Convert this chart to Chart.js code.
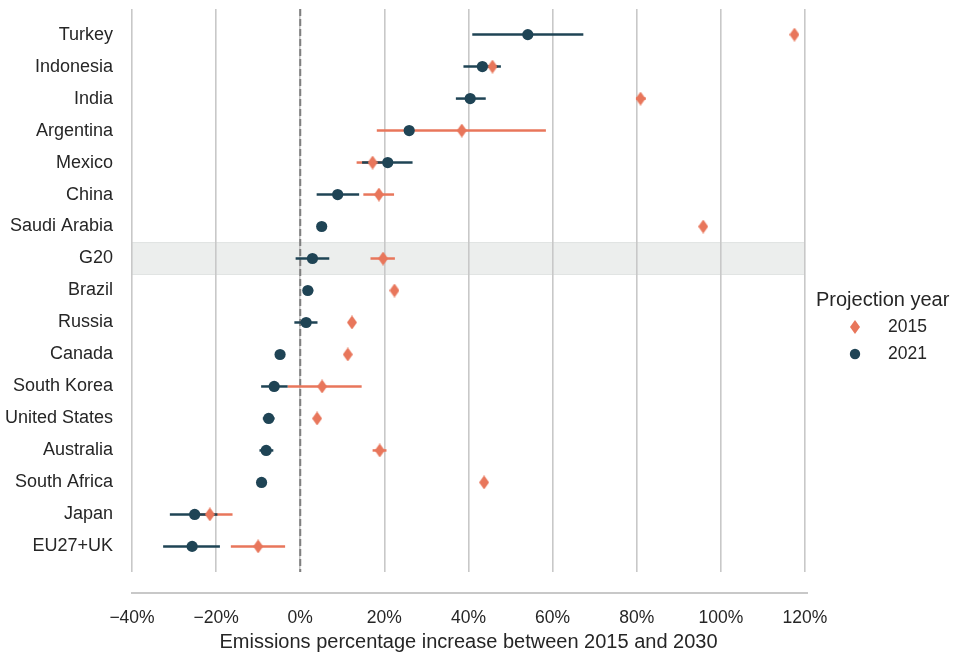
<!DOCTYPE html>
<html>
<head>
<meta charset="utf-8">
<script src="https://cdn.jsdelivr.net/npm/chart.js@4/dist/chart.umd.min.js"></script>
<style>
  html, body { margin: 0; padding: 0; background: #fff; }
  #wrap { width: 957px; height: 654px; }
</style>
</head>
<body>
<div id="wrap"><canvas id="myChart" width="957" height="654"></canvas></div>
<script>
var countries = ['Turkey', 'Indonesia', 'India', 'Argentina', 'Mexico', 'China', 'Saudi Arabia', 'G20',
  'Brazil', 'Russia', 'Canada', 'South Korea', 'United States', 'Australia', 'South Africa', 'Japan', 'EU27+UK'];

// 2015 projections (%), with their ranges where there is one
var p2015  = [117.5, 45.7, 80.9, 38.4, 17.2, 18.7, 95.8, 19.7, 22.4, 12.3, 11.3, 5.2, 4.0, 18.9, 43.7, -21.5, -10.0];
var lo2015 = [null, 44.5, 79.8, 18.2, 13.4, 15.0, null, 16.7, null, null, null, -3.0, null, 17.2, null, -25.0, -16.5];
var hi2015 = [null, 47.0, 82.1, 58.4, 19.5, 22.3, null, 22.5, null, null, null, 14.6, null, 20.5, null, -16.1, -3.6];

// 2021 projections (%)
var p2021  = [54.1, 43.3, 40.4, 25.9, 20.8, 8.9, 5.1, 2.9, 1.8, 1.4, -4.8, -6.2, -7.5, -8.1, -9.2, -25.1, -25.7];
var lo2021 = [40.9, 38.8, 37.0, null, 14.7, 3.9, null, -1.1, 0.7, -1.4, null, -9.3, -8.9, -9.7, null, -31.0, -32.6];
var hi2021 = [67.3, 47.7, 44.1, null, 26.7, 14.0, null, 6.9, 3.1, 4.1, null, -3.0, -6.1, -6.4, null, -19.7, -19.1];

var xTicks = [-40, -20, 0, 20, 40, 60, 80, 100, 120];
var highlight = 'G20';

var orange = '#e8765b';
var navy = '#1f4455';
var textCol = '#262626';
var gridCol = '#c8c8c8';
var fontFam = "'Liberation Sans', Arial, sans-serif";

// narrow diamond marker, like matplotlib's 'd'
function makeDiamond(w, h, color) {
  var c = document.createElement('canvas');
  c.width = w; c.height = h;
  var g = c.getContext('2d');
  g.fillStyle = color;
  g.beginPath();
  g.moveTo(w / 2, 0);
  g.lineTo(w, h / 2);
  g.lineTo(w / 2, h);
  g.lineTo(0, h / 2);
  g.closePath();
  g.fill();
  return c;
}
var diamond = makeDiamond(10, 14, orange);

function pts(vals) {
  return vals.map(function (v, i) { return { x: v, y: i }; });
}

var ranges = [
  { lo: lo2015, hi: hi2015, color: orange },
  { lo: lo2021, hi: hi2021, color: navy }
];

var backdrop = {
  id: 'backdrop',
  beforeDraw: function (chart) {
    var ctx = chart.ctx, a = chart.chartArea, ys = chart.scales.y;
    var idx = countries.indexOf(highlight);
    var t = ys.getPixelForValue(idx - 0.5), b = ys.getPixelForValue(idx + 0.5);
    ctx.save();
    ctx.fillStyle = '#eceeed';
    ctx.fillRect(a.left, t, a.right - a.left, b - t);
    ctx.strokeStyle = '#e1e4e3';
    ctx.lineWidth = 1;
    ctx.beginPath();
    ctx.moveTo(a.left, t); ctx.lineTo(a.right, t);
    ctx.moveTo(a.left, b); ctx.lineTo(a.right, b);
    ctx.stroke();
    ctx.restore();
  },
  beforeDatasetsDraw: function (chart) {
    var ctx = chart.ctx, a = chart.chartArea, xs = chart.scales.x, ys = chart.scales.y;
    ctx.save();
    // zero line
    var x0 = xs.getPixelForValue(0);
    ctx.strokeStyle = '#7f7f7f';
    ctx.lineWidth = 2;
    ctx.setLineDash([7, 3]);
    ctx.beginPath();
    ctx.moveTo(x0, a.top); ctx.lineTo(x0, a.bottom);
    ctx.stroke();
    ctx.setLineDash([]);
    // range bars
    ctx.lineWidth = 2.5;
    ranges.forEach(function (r) {
      ctx.strokeStyle = r.color;
      countries.forEach(function (c, i) {
        if (r.lo[i] == null) return;
        var y = ys.getPixelForValue(i);
        ctx.beginPath();
        ctx.moveTo(xs.getPixelForValue(r.lo[i]), y);
        ctx.lineTo(xs.getPixelForValue(r.hi[i]), y);
        ctx.stroke();
      });
    });
    ctx.restore();
  },
  afterDraw: function (chart) {
    var ctx = chart.ctx, a = chart.chartArea;
    ctx.save();
    // detached x axis line
    ctx.strokeStyle = gridCol;
    ctx.lineWidth = 2;
    ctx.beginPath();
    ctx.moveTo(a.left - 1, a.bottom + 21);
    ctx.lineTo(a.right + 3, a.bottom + 21);
    ctx.stroke();

    // legend
    var lx = a.right + 11, ly = 300;
    ctx.fillStyle = textCol;
    ctx.font = '20px ' + fontFam;
    ctx.textBaseline = 'middle';
    ctx.textAlign = 'left';
    ctx.fillText('Projection year', lx, ly);
    var order = [1, 0];
    order.forEach(function (di, k) {
      var ds = chart.data.datasets[di];
      var y = ly + 27 + k * 27;
      var mx = a.right + 50;
      if (ds.pointStyle instanceof HTMLCanvasElement) {
        ctx.drawImage(ds.pointStyle, mx - ds.pointStyle.width / 2, y - ds.pointStyle.height / 2);
      } else {
        ctx.fillStyle = ds.backgroundColor;
        ctx.beginPath();
        ctx.arc(mx, y, 5.2, 0, Math.PI * 2);
        ctx.fill();
      }
      ctx.fillStyle = textCol;
      ctx.font = '17.5px ' + fontFam;
      ctx.fillText(ds.label, a.right + 83, y);
    });
    ctx.restore();
  }
};

var ctx = document.getElementById('myChart').getContext('2d');
var myChart = new Chart(ctx, {
  type: 'scatter',
  data: {
    datasets: [
      {
        label: '2021',
        data: pts(p2021),
        pointStyle: 'circle',
        pointRadius: 5.6,
        pointHoverRadius: 5.6,
        backgroundColor: navy,
        borderColor: navy,
        borderWidth: 0
      },
      {
        label: '2015',
        data: pts(p2015),
        pointStyle: diamond,
        backgroundColor: orange,
        borderColor: orange
      }
    ]
  },
  options: {
    responsive: false,
    animation: false,
    layout: { padding: { left: 4, top: 9, right: 152, bottom: 0 } },
    plugins: {
      legend: { display: false },
      tooltip: { enabled: false }
    },
    scales: {
      x: {
        type: 'linear',
        min: -40,
        max: 120,
        afterBuildTicks: function (scale) {
          scale.ticks = xTicks.map(function (v) { return { value: v }; });
        },
        grid: { color: gridCol, lineWidth: 1.6, drawTicks: false },
        border: { display: false },
        ticks: {
          padding: 36,
          color: textCol,
          font: { family: fontFam, size: 17.5 },
          callback: function (v) { return (v < 0 ? '\u2212' + Math.abs(v) : v) + '%'; }
        },
        title: {
          display: true,
          text: 'Emissions percentage increase between 2015 and 2030',
          color: textCol,
          font: { family: fontFam, size: 20 },
          padding: { top: -35, bottom: 0 }
        }
      },
      y: {
        type: 'linear',
        reverse: true,
        min: -0.8,
        max: 16.8,
        afterBuildTicks: function (scale) {
          scale.ticks = countries.map(function (c, i) { return { value: i }; });
        },
        afterFit: function (scale) {
          scale.width = 128;
          scale.paddingTop = 0;
          scale.paddingBottom = 0;
        },
        grid: { display: false, drawTicks: false },
        border: { display: false },
        ticks: {
          padding: 19,
          color: textCol,
          font: { family: fontFam, size: 18 },
          callback: function (v) { return countries[v]; }
        }
      }
    }
  },
  plugins: [backdrop]
});
</script>
</body>
</html>
